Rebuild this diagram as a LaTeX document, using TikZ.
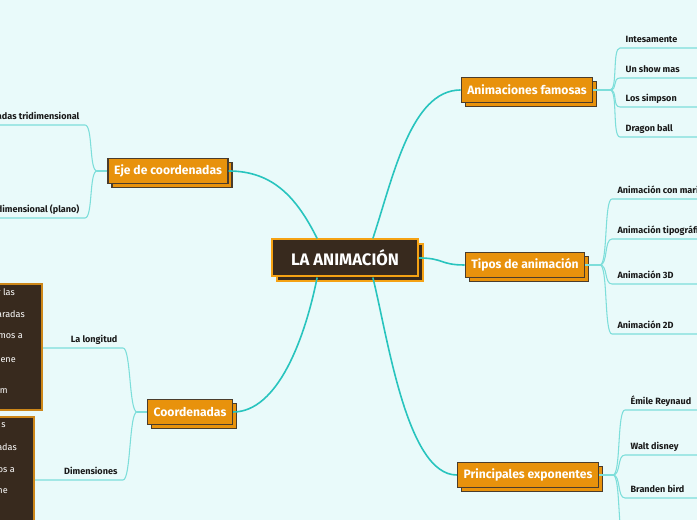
\documentclass[tikz,border=0pt]{standalone}
\usepackage{fontspec}
\setmainfont{Fira Sans}
\usepackage{tikz}
\usetikzlibrary{shadows}

\definecolor{bgcyan}{RGB}{233,250,250}
\definecolor{hubfill}{RGB}{56,42,30}
\definecolor{hubline}{RGB}{245,162,20}
\definecolor{topicfill}{RGB}{232,146,12}
\definecolor{topicline}{RGB}{74,60,44}
\definecolor{noteline}{RGB}{205,135,25}
\definecolor{leafink}{RGB}{25,25,25}
\definecolor{trunkcol}{RGB}{40,196,190}
\definecolor{twigcol}{RGB}{125,222,218}

\begin{document}
\begin{tikzpicture}[x=0.75pt,y=0.75pt,
 hub/.style={draw=hubline,line width=1.5pt,fill=hubfill,text=white,font=\fontsize{12.5}{14}\selectfont\bfseries,minimum height=27.75pt,minimum width=109.5pt,copy shadow={shadow xshift=3.75pt,shadow yshift=-3.75pt}},
 topic/.style={draw=topicline,line width=1.1pt,fill=topicfill,text=white,font=\fontsize{9.1}{11}\selectfont\bfseries,minimum height=18.5pt,inner xsep=4.5pt,copy shadow={shadow xshift=3pt,shadow yshift=-3pt}},
 leaf/.style={font=\fontsize{6.8}{8}\selectfont\bfseries,text=leafink,inner xsep=4pt,inner ysep=1.8pt,text height=1.5ex,text depth=0.4ex,anchor=south west},
 leafl/.style={leaf,anchor=south east},
 note/.style={draw=noteline,line width=1.2pt,fill=hubfill,minimum width=90pt},
 frag/.style={font=\fontsize{6.8}{8}\selectfont,text=white,anchor=east,inner sep=0pt},
 trunk/.style={draw=trunkcol,line width=1.2pt},
 twig/.style={draw=twigcol,line width=0.8pt}]
\useasboundingbox (0,0) rectangle (697,520);
\fill[bgcyan] (0,0) rectangle (697,520);
\coordinate (redge) at (700,0);
\coordinate (ledge) at (-5,0);
\node[hub] (anim) at (345,262) {LA ANIMACIÓN};
\node[topic] (famosas) at (527,430) {Animaciones famosas};
\node[topic] (tipos) at (525,255) {Tipos de animación};
\node[topic] (expon) at (528,45) {Principales exponentes};
\node[topic] (eje) at (168,349) {Eje de coordenadas};
\node[topic] (coord) at (190,108) {Coordenadas};
\node[leaf] (intes) at (620,472) {Intesamente};
\node[leaf] (show) at (620,442) {Un show mas};
\node[leaf] (simp) at (620,413) {Los simpson};
\node[leaf] (dball) at (620,383) {Dragon ball};
\node[leaf] (mari) at (612,321) {Animación con mari};
\node[leaf] (tipog) at (612,281) {Animación tipográfi};
\node[leaf] (tresd) at (612,236) {Animación 3D};
\node[leaf] (dosd) at (612,186) {Animación 2D};
\node[leaf] (emile) at (625,110) {Émile Reynaud};
\node[leaf] (walt) at (625,65) {Walt disney};
\node[leaf] (brand) at (625,22) {Branden bird};
\coordinate (expoff) at (625,-22);
\node[leafl] (tri) at (85,395) {adas tridimensional};
\node[leafl] (plano) at (85,302) {dimensional (plano)};
\node[leafl] (longi) at (123,172) {La longitud};
\node[leafl] (dimen) at (123,40) {Dimensiones};
\node[note,anchor=east,minimum height=94.5pt] (longnote) at (43,173) {};
\node[note,anchor=north east,minimum height=120pt] (dimnote) at (35,104) {};
\node[frag] (lf1) at (15,228) {r las};
\node[frag] (lf2) at (25,206) {aradas};
\node[frag] (lf3) at (23,184) {mos a};
\node[frag] (lf4) at (16,161) {iene};
\node[frag] (lf5) at (8,129) {m};
\node[frag] (df1) at (6,95) {s};
\node[frag] (df2) at (17,73) {adas};
\node[frag] (df3) at (15,50) {os a};
\node[frag] (df4) at (8,29) {ne};
\coordinate (famfork) at (610,430);
\coordinate (tipfork) at (600,255);
\coordinate (expfork) at (613,45);
\coordinate (ejefork) at (97,349);
\coordinate (coordfork) at (137,108);
\draw[trunk] (anim.145) .. controls +(-20,40) and +(45,0) .. (eje.east);
\draw[trunk] (anim.35) .. controls +(20,60) and +(-50,0) .. (famosas.west);
\draw[trunk] (anim.east) .. controls +(25,0) and +(-25,0) .. (tipos.west);
\draw[trunk] (anim.325) .. controls +(15,-60) and +(-50,0) .. (expon.west);
\draw[trunk] (anim.215) .. controls +(-12,-60) and +(45,0) .. (coord.east);
\draw[twig] (famosas.east) -- (famfork);
\draw[twig] (famfork) .. controls +(8,0) and +(-8,0) .. (intes.south west) -- (intes.south west -| redge);
\draw[twig] (famfork) .. controls +(8,0) and +(-8,0) .. (show.south west) -- (show.south west -| redge);
\draw[twig] (famfork) .. controls +(8,0) and +(-8,0) .. (simp.south west) -- (simp.south west -| redge);
\draw[twig] (famfork) .. controls +(8,0) and +(-8,0) .. (dball.south west) -- (dball.south west -| redge);
\draw[twig] (tipos.east) -- (tipfork);
\draw[twig] (tipfork) .. controls +(8,0) and +(-8,0) .. (mari.south west) -- (mari.south west -| redge);
\draw[twig] (tipfork) .. controls +(8,0) and +(-8,0) .. (tipog.south west) -- (tipog.south west -| redge);
\draw[twig] (tipfork) .. controls +(8,0) and +(-8,0) .. (tresd.south west) -- (tresd.south west -| redge);
\draw[twig] (tipfork) .. controls +(8,0) and +(-8,0) .. (dosd.south west) -- (dosd.south west -| redge);
\draw[twig] (expon.east) -- (expfork);
\draw[twig] (expfork) .. controls +(8,0) and +(-8,0) .. (emile.south west) -- (emile.south west -| redge);
\draw[twig] (expfork) .. controls +(8,0) and +(-8,0) .. (walt.south west) -- (walt.south west -| redge);
\draw[twig] (expfork) .. controls +(8,0) and +(-8,0) .. (brand.south west) -- (brand.south west -| redge);
\draw[twig] (expfork) .. controls +(8,0) and +(-8,0) .. (expoff);
\draw[twig] (eje.west) -- (ejefork);
\draw[twig] (ejefork) .. controls +(-8,0) and +(8,0) .. (tri.south east) -- (tri.south east -| ledge);
\draw[twig] (ejefork) .. controls +(-8,0) and +(8,0) .. (plano.south east) -- (plano.south east -| ledge);
\draw[twig] (coord.west) -- (coordfork);
\draw[twig] (coordfork) .. controls +(-8,0) and +(8,0) .. (longi.south east) -- (longi.south east -| longnote.east);
\draw[twig] (coordfork) .. controls +(-8,0) and +(8,0) .. (dimen.south east) -- (dimen.south east -| dimnote.east);
\end{tikzpicture}
\end{document}
